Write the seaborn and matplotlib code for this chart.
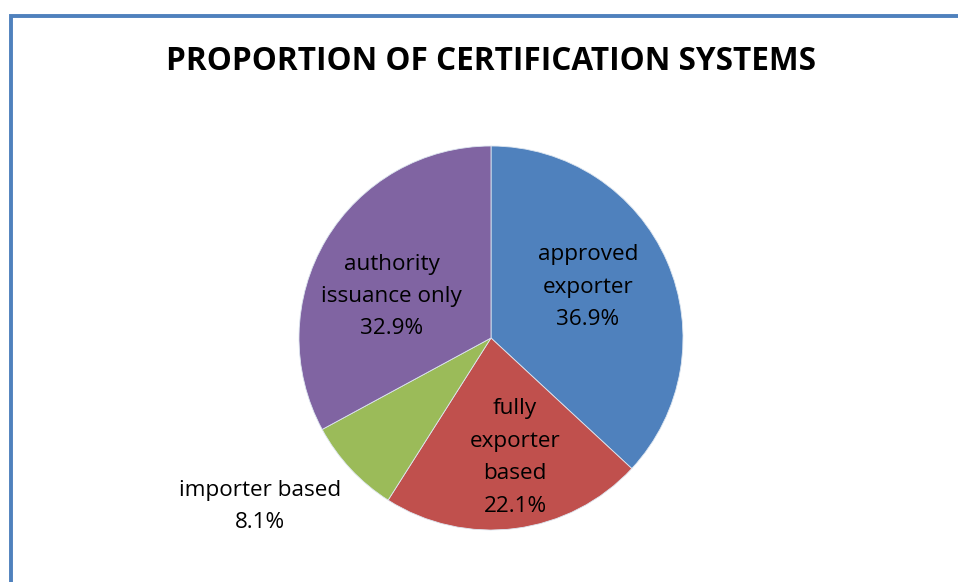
import numpy as np
import matplotlib
matplotlib.use("Agg")
import matplotlib.pyplot as plt
import seaborn as sns
from matplotlib.patches import Rectangle

categories = ["approved\nexporter", "fully\nexporter\nbased", "importer based", "authority\nissuance only"]
shares = [36.9, 22.1, 8.1, 32.9]
slice_colors = ["#4F81BD", "#C0504D", "#9BBB59", "#8064A2"]

sns.set_theme(style="white")
plt.rcParams["font.family"] = ["Open Sans", "DejaVu Sans"]

fig = plt.figure(figsize=(9.58, 5.82), dpi=100)
W, H = 958, 582
cx, cy, r = 491, 338, 192
ax = fig.add_axes([(cx - r) / W, (H - cy - r) / H, 2 * r / W, 2 * r / H])

palette = sns.color_palette(slice_colors)
wedges, _ = ax.pie(shares, colors=palette, startangle=90, counterclock=False,
                   radius=1, wedgeprops=dict(edgecolor="#dde6f0", linewidth=0.6))
ax.set_xlim(-1, 1)
ax.set_ylim(-1, 1)
ax.set_aspect("equal")
ax.axis("off")

# label placement (distance from centre in radii, extra angle tweak in degrees)
label_pos = [(0.57, 4), (0.635, 4), (1.49, -7), (0.56, 8)]
for w, name, val, (d, tweak) in zip(wedges, categories, shares, label_pos):
    mid = np.deg2rad((w.theta1 + w.theta2) / 2 + tweak)
    ax.text(d * np.cos(mid), d * np.sin(mid), f"{name}\n{val:.1f}%",
            ha="center", va="center", fontsize=16.2, color="black",
            linespacing=1.71)

fig.text(491 / W, 1 - 61 / H, "PROPORTION OF CERTIFICATION SYSTEMS",
         ha="center", va="center", fontsize=22.7, fontweight="bold", color="black")

# chart-area border
fig.patches.append(Rectangle((11 / W, -0.05), 1.1, 1 - 15.5 / H + 0.05,
                             transform=fig.transFigure, fill=False,
                             edgecolor="#4F81BD", linewidth=2.8))

fig.savefig("out.png", dpi=100)
